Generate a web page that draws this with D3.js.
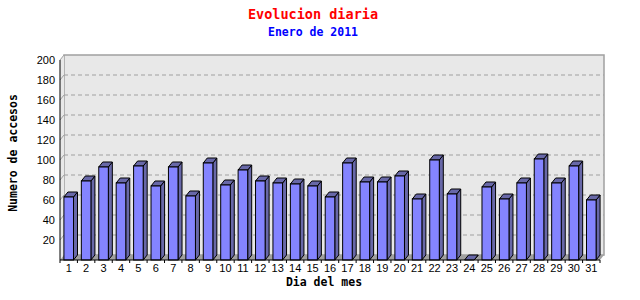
<!DOCTYPE html>
<html>
<head>
<meta charset="utf-8">
<script src="https://cdn.jsdelivr.net/npm/d3@7"></script>
<style>
  body { margin: 0; background: #fff; }
  svg { display: block; }
  .tick text { font-family: "Liberation Sans", Arial, sans-serif; font-size: 11px; fill: #000; }
</style>
</head>
<body>
<svg id="chart" width="640" height="300"></svg>
<script>
// daily hits, January 2011
var days = d3.range(1, 32);
var hits = [63, 79, 93, 77, 94, 74, 93, 64, 97, 75,
            90, 79, 77, 76, 74, 63, 97, 78, 78, 84,
            61, 100, 66, 0, 73, 61, 77, 101, 77, 94, 60];
var yTicks = [20, 40, 60, 80, 100, 120, 140, 160, 180, 200];

var svg = d3.select('#chart');
var plotL = 60, plotR = 600, plotT = 60, plotB = 260;
var dx = 4, dy = 5; // 3d depth

var x = d3.scaleBand().domain(days).range([plotL, plotR])
    .paddingInner(0.45).paddingOuter(0.225);
var y = d3.scaleLinear().domain([0, 200]).range([plotB, plotT]);

// back wall
svg.append('rect')
    .attr('x', plotL + dx).attr('y', plotT - dy)
    .attr('width', plotR - plotL).attr('height', plotB - plotT)
    .attr('fill', '#e8e8e8').attr('stroke', '#a0a0a0').attr('stroke-width', 1.5);
// left wall
svg.append('path')
    .attr('d', 'M' + plotL + ',' + plotT + 'L' + (plotL + dx) + ',' + (plotT - dy) +
        'L' + (plotL + dx) + ',' + (plotB - dy) + 'L' + plotL + ',' + plotB + 'Z')
    .attr('fill', '#e8e8e8');

// grid on back wall
svg.append('g').selectAll('line').data(yTicks.slice(0, -1)).enter().append('line')
    .attr('x1', plotL + dx).attr('x2', plotR + dx)
    .attr('y1', function(d) { return y(d) - dy; })
    .attr('y2', function(d) { return y(d) - dy; })
    .attr('stroke', '#a0a0a0').attr('stroke-dasharray', '4,3');
// slanted ticks joining the axis to the wall
svg.append('g').selectAll('line').data(yTicks).enter().append('line')
    .attr('x1', plotL).attr('x2', plotL + dx)
    .attr('y1', function(d) { return y(d); })
    .attr('y2', function(d) { return y(d) - dy; })
    .attr('stroke', '#a0a0a0');

// floor
svg.append('path')
    .attr('d', 'M' + plotL + ',' + plotB + 'L' + plotR + ',' + plotB +
        'L' + (plotR + dx) + ',' + (plotB - dy) + 'L' + (plotL + dx) + ',' + (plotB - dy) + 'Z')
    .attr('fill', '#a0a0a0');

// bars
var bars = svg.append('g').selectAll('g').data(hits).enter().append('g');
var bw = x.bandwidth();
bars.append('path')
    .attr('d', function(d, i) {
        var x0 = x(days[i]) + bw, y0 = y(d);
        return 'M' + x0 + ',' + y0 + 'L' + (x0 + dx) + ',' + (y0 - dy) +
            'L' + (x0 + dx) + ',' + (plotB - dy) + 'L' + x0 + ',' + plotB + 'Z';
    })
    .attr('fill', '#6868a8').attr('stroke', '#000').attr('stroke-linejoin', 'round');
bars.append('path')
    .attr('d', function(d, i) {
        var x0 = x(days[i]), y0 = y(d);
        return 'M' + x0 + ',' + y0 + 'L' + (x0 + dx) + ',' + (y0 - dy) +
            'L' + (x0 + bw + dx) + ',' + (y0 - dy) + 'L' + (x0 + bw) + ',' + y0 + 'Z';
    })
    .attr('fill', '#6868a8').attr('stroke', '#000').attr('stroke-linejoin', 'round');
bars.append('rect')
    .attr('x', function(d, i) { return x(days[i]); })
    .attr('y', function(d) { return y(d); })
    .attr('width', bw)
    .attr('height', function(d) { return plotB - y(d); })
    .attr('fill', '#8484ff').attr('stroke', '#000');

// axes
var yAxis = svg.append('g').attr('transform', 'translate(' + plotL + ',0)')
    .call(d3.axisLeft(y).tickValues(yTicks).tickSize(0).tickPadding(5));
yAxis.select('.domain').attr('stroke', '#000').attr('d', 'M0,' + plotT + 'V' + plotB);

var xAxis = svg.append('g').attr('transform', 'translate(0,' + plotB + ')')
    .call(d3.axisBottom(x).tickSize(0).tickPadding(4));
xAxis.select('.domain').attr('stroke', '#000').attr('d', 'M' + plotL + ',0H' + plotR);
xAxis.selectAll('.bound').data(d3.range(0, 32)).enter().append('line')
    .attr('class', 'bound')
    .attr('x1', function(i) { return plotL + i * x.step(); })
    .attr('x2', function(i) { return plotL + i * x.step(); })
    .attr('y1', 0).attr('y2', 3).attr('stroke', '#000');

// titles
svg.append('text').text('Evolucion diaria')
    .attr('x', 313).attr('y', 19).attr('text-anchor', 'middle')
    .attr('font-family', '"DejaVu Sans Mono", monospace').attr('font-weight', 'bold')
    .attr('font-size', 13.5).attr('fill', '#ff0000');
svg.append('text').text('Enero de 2011')
    .attr('x', 313).attr('y', 36).attr('text-anchor', 'middle')
    .attr('font-family', '"DejaVu Sans Mono", monospace').attr('font-weight', 'bold')
    .attr('font-size', 11.5).attr('fill', '#0000ff');
svg.append('text').text('Dia del mes')
    .attr('x', 324).attr('y', 286).attr('text-anchor', 'middle')
    .attr('font-family', '"DejaVu Sans Mono", monospace').attr('font-weight', 'bold')
    .attr('font-size', 11.5).attr('fill', '#000');
svg.append('text').text('Numero de accesos')
    .attr('transform', 'translate(17,153) rotate(-90)').attr('text-anchor', 'middle')
    .attr('font-family', '"DejaVu Sans Mono", monospace').attr('font-weight', 'bold')
    .attr('font-size', 11.5).attr('fill', '#000');
</script>
</body>
</html>
